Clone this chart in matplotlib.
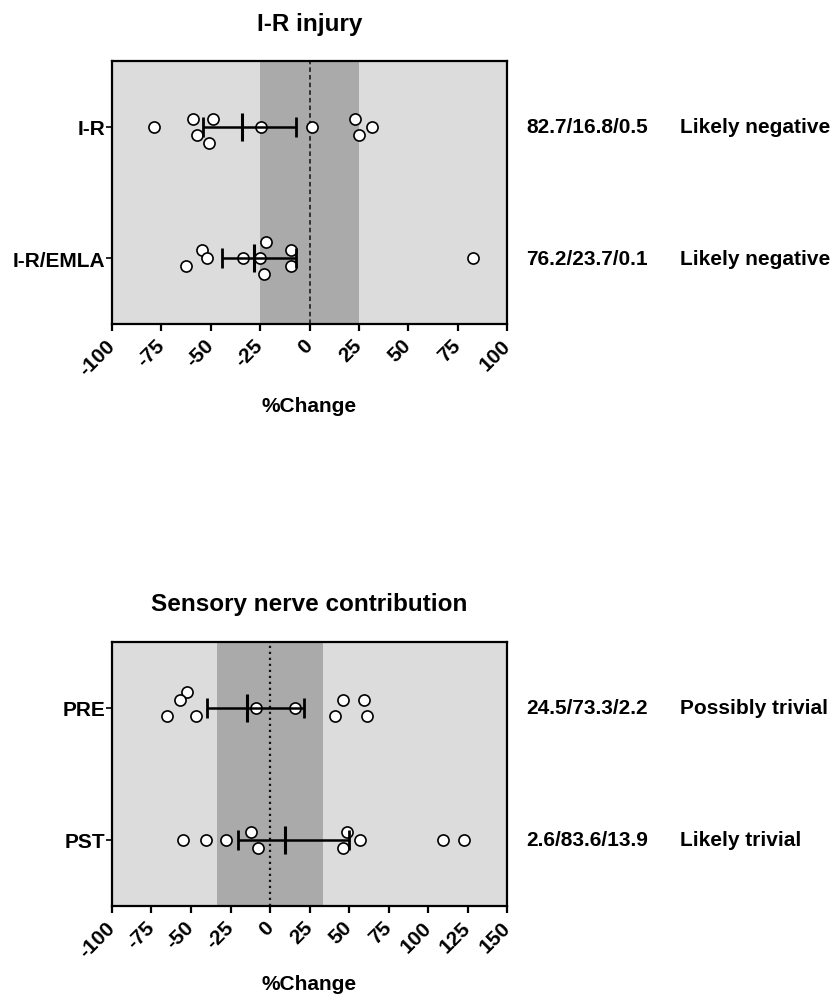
import matplotlib
matplotlib.use("Agg")
import matplotlib.pyplot as plt
import numpy as np

plt.rcParams['font.family'] = ['Liberation Sans', 'DejaVu Sans']
plt.rcParams['font.weight'] = 'bold'

# ---------------- data ----------------
top_title = "I-R injury"
top_categories = ["I-R", "I-R/EMLA"]
ir_values = [-78.5, -58.8, -48.8, -56.9, -51.0, -24.7, 1.5, 22.8, 31.8, 25.0]
ir_jitter = [0, 1, 1, -1, -2, 0, 0, 1, 0, -1]
emla_values = [-62.3, -54.4, -51.7, -33.6, -25.0, -22.1, -22.8, -9.5, -9.5, 82.8]
emla_jitter = [-1, 1, 0, 0, 0, 2, -2, 1, -1, 0]
top_means = [-34.1, -28.0]
top_lower = [-54.1, -44.4]
top_upper = [-6.8, -6.8]
top_band = [-25.0, 25.0]
top_xticks = [-100, -75, -50, -25, 0, 25, 50, 75, 100]
top_probs = ["82.7/16.8/0.5", "76.2/23.7/0.1"]
top_inference = ["Likely negative", "Likely negative"]

bot_title = "Sensory nerve contribution"
bot_categories = ["PRE", "PST"]
pre_values = [-52.3, -56.9, -65.3, -46.8, -8.9, 15.8, 46.4, 59.2, 41.3, 61.1]
pre_jitter = [2, 1, -1, -1, 0, 0, 1, 1, -1, -1]
pst_values = [-55.0, -40.7, -27.6, -11.8, -7.4, 48.5, 56.7, 46.2, 109.2, 123.1]
pst_jitter = [0, 0, 0, 1, -1, 1, 0, -1, 0, 0]
bot_means = [-14.3, 9.5]
bot_lower = [-39.6, -20.0]
bot_upper = [21.5, 50.2]
bot_band = [-33.7, 33.7]
bot_xticks = [-100, -75, -50, -25, 0, 25, 50, 75, 100, 125, 150]
bot_probs = ["24.5/73.3/2.2", "2.6/83.6/13.9"]
bot_inference = ["Possibly trivial", "Likely trivial"]

xlabel = "%Change"

# ---------------- drawing ----------------
W, H = 833, 995
fig = plt.figure(figsize=(W / 100, H / 100), dpi=100)

LIGHT = "#dcdcdc"
DARK = "#aaaaaa"
FS = 15
JSTEP = 0.06


def panel(rect, title, cats, vals_list, jit_list, means, lo, hi, band, xticks,
          probs, infer, zero_ls, zero_lw, title_y, xlabel_y):
    ax = fig.add_axes(rect)
    ax.set_facecolor(LIGHT)
    ax.set_xlim(xticks[0], xticks[-1])
    ax.set_ylim(-0.5, 1.5)
    ax.axvspan(band[0], band[1], color=DARK, zorder=0.5, lw=0)
    ax.axvline(0, color="#111111", lw=zero_lw, ls=zero_ls, zorder=1)
    ypos = [1, 0]
    for y, vals, jit in zip(ypos, vals_list, jit_list):
        ys = y + np.asarray(jit) * JSTEP
        ax.plot(vals, ys, 'o', ms=8, mfc='white', mec='black', mew=1.2,
                ls='none', zorder=3)
    for y, m, l, h in zip(ypos, means, lo, hi):
        ax.errorbar([m], [y], xerr=[[m - l], [h - m]], fmt='none',
                    ecolor='black', elinewidth=1.8, capsize=7, capthick=2,
                    zorder=4)
        ax.plot([m], [y], marker='|', ms=20, mew=2.2, color='black', zorder=4)
    ax.set_yticks(ypos)
    ax.set_yticklabels(cats, fontsize=FS, fontweight='bold')
    ax.set_xticks(xticks)
    ax.set_xticklabels([str(t) for t in xticks], fontsize=FS, fontweight='bold',
                       rotation=45, ha='right', va='center',
                       rotation_mode='anchor')
    for s in ax.spines.values():
        s.set_linewidth(1.6)
        s.set_color('black')
    ax.tick_params(axis='x', direction='out', length=5, width=1.6, pad=8)
    ax.tick_params(axis='y', direction='out', length=4, width=1.2, pad=1)
    tr = ax.get_yaxis_transform()
    for y, p, inf in zip(ypos, probs, infer):
        ax.text(1.048, y, p, transform=tr, ha='left', va='center',
                fontsize=FS, fontweight='bold')
        ax.text(1.438, y, inf, transform=tr, ha='left', va='center',
                fontsize=FS, fontweight='bold')
    cx = rect[0] + rect[2] / 2
    fig.text(cx, 1 - title_y / H, title, ha='center', va='center',
             fontsize=17.5, fontweight='bold')
    fig.text(cx, 1 - xlabel_y / H, xlabel, ha='center', va='center',
             fontsize=FS, fontweight='bold')
    return ax


panel([112 / W, 1 - 325 / H, 395 / W, 263 / H], top_title, top_categories,
      [ir_values, emla_values], [ir_jitter, emla_jitter],
      top_means, top_lower, top_upper, top_band, top_xticks,
      top_probs, top_inference, (0, (3, 2)), 1.1, 24, 407)

panel([112 / W, 1 - 907 / H, 395 / W, 264 / H], bot_title, bot_categories,
      [pre_values, pst_values], [pre_jitter, pst_jitter],
      bot_means, bot_lower, bot_upper, bot_band, bot_xticks,
      bot_probs, bot_inference, (0, (1, 1.7)), 1.6, 604, 985)

fig.savefig("out.png", dpi=100)
